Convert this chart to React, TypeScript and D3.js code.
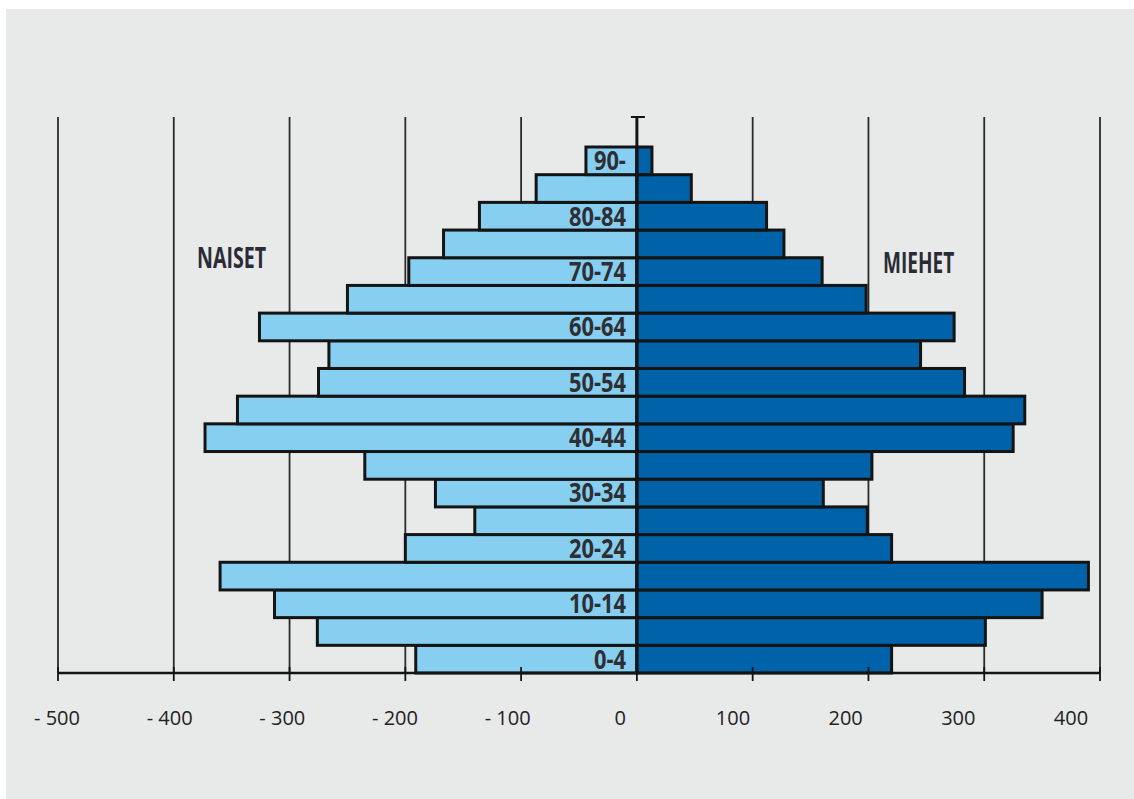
import * as d3 from 'd3'

const ages = ['0-4', '5-9', '10-14', '15-19', '20-24', '25-29', '30-34', '35-39', '40-44', '45-49', '50-54', '55-59', '60-64', '65-69', '70-74', '75-79', '80-84', '85-89', '90-']
const women = [191, 276, 313, 360, 200, 140, 174, 235, 373, 345, 275, 266, 326, 250, 197, 167, 136, 87, 44]
const men = [220, 301, 350, 390, 220, 199, 161, 203, 325, 335, 283, 245, 274, 198, 160, 127, 112, 47, 13]
const ticks = [-500, -400, -300, -200, -100, 0, 100, 200, 300, 400]
const tickLabels = ['- 500', '- 400', '- 300', '- 200', '- 100', '0', '100', '200', '300', '400']

const width = 1134
const height = 799
const lightBlue = '#86cff0'
const darkBlue = '#0062a8'
const ink = '#141414'
// no condensed face installed, so squeeze a bold sans horizontally
const condensed = "'Open Sans', 'Noto Sans', sans-serif"

export default function App() {
  const x = d3.scaleLinear().domain([-500, 400]).range([58, 1100])
  // tick labels in the source sit slightly off their ticks
  const xLabel = d3.scaleLinear().domain([-500, 400]).range([57, 1071])
  const y = d3.scaleBand<string>().domain([...ages].reverse()).range([147, 673]).padding(0)
  const gridTop = 117
  const base = 673

  return (
    <svg
      width={width}
      height={height}
      style={{ position: 'absolute', left: 0, top: 0, background: '#fff' }}
    >
      <rect x={6} y={9} width={width - 6} height={height - 9} fill="#e8e9e9" />

      {/* grid */}
      {ticks.map((t) => (
        <line key={'g' + t} x1={x(t)} x2={x(t)} y1={gridTop} y2={base} stroke="#2b2b2b" strokeWidth={1.8} />
      ))}

      {/* bars */}
      {ages.map((a, i) => (
        <g key={a}>
          <rect
            x={x(-women[i])}
            y={y(a)}
            width={x(0) - x(-women[i])}
            height={y.bandwidth()}
            fill={lightBlue}
            stroke={ink}
            strokeWidth={3}
          />
          <rect
            x={x(0)}
            y={y(a)}
            width={x(men[i]) - x(0)}
            height={y.bandwidth()}
            fill={darkBlue}
            stroke={ink}
            strokeWidth={3}
          />
        </g>
      ))}

      {/* centre axis */}
      <line x1={x(0)} x2={x(0)} y1={gridTop} y2={base} stroke={ink} strokeWidth={3} />
      <line x1={x(0) - 6} x2={x(0) + 8} y1={gridTop} y2={gridTop} stroke={ink} strokeWidth={2} />

      {/* age labels */}
      {ages.map((a, i) =>
        i % 2 === 0 ? (
          <text
            key={'l' + a}
            transform={`translate(${x(0) - 11},${(y(a) ?? 0) + y.bandwidth() / 2}) scale(0.84,1)`}
            dy="0.36em"
            textAnchor="end"
            fontFamily={condensed}
            fontWeight="bold"
            fontSize={26}
            fill="#2e2e33"
          >
            {a}
          </text>
        ) : null
      )}

      {/* bottom axis */}
      <line x1={x(-500)} x2={x(400)} y1={base} y2={base} stroke={ink} strokeWidth={2.5} />
      {ticks.map((t) => (
        <line key={'t' + t} x1={x(t)} x2={x(t)} y1={base - 6} y2={base + 8} stroke={ink} strokeWidth={1.8} />
      ))}
      {ticks.map((t, i) => (
        <text
          key={'tl' + t}
          x={xLabel(t)}
          y={725}
          textAnchor="middle"
          fontFamily="'Open Sans', sans-serif"
          fontSize={20}
          fill="#222"
        >
          {tickLabels[i]}
        </text>
      ))}

      <text
        transform="translate(197,268) scale(0.7,1)"
        fontFamily={condensed}
        fontWeight="bold"
        fontSize={28}
        fill="#2b2b36"
      >
        NAISET
      </text>
      <text
        transform="translate(883,273) scale(0.68,1)"
        fontFamily={condensed}
        fontWeight="bold"
        fontSize={28}
        fill="#2b2b36"
      >
        MIEHET
      </text>
    </svg>
  )
}
